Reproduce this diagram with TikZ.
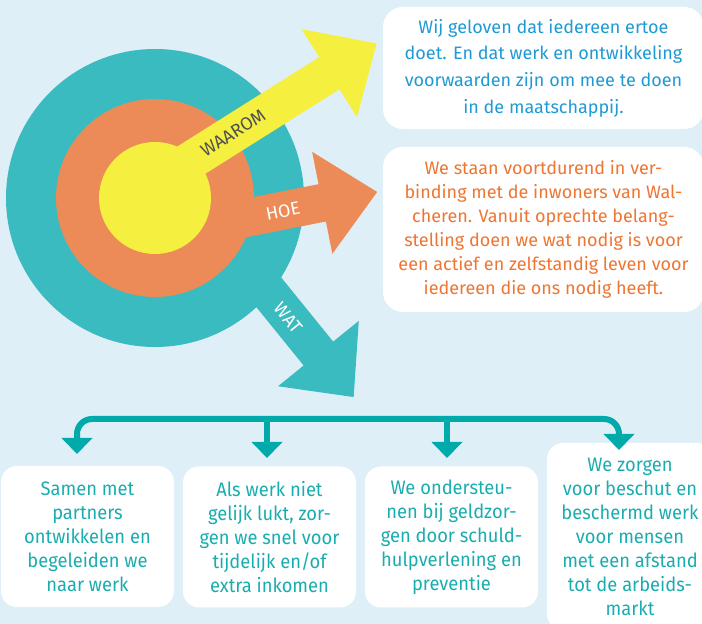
\documentclass[tikz,border=0pt]{standalone}
\usepackage{fontspec}
\setmainfont{Fira Sans}
\newfontfamily\narrowfont[FakeStretch=0.94]{Fira Sans}
\usetikzlibrary{arrows.meta}

\definecolor{bgblue}{HTML}{DFEFF7}
\definecolor{ringteal}{HTML}{3ABBBF}
\definecolor{ringorange}{HTML}{EC8B57}
\definecolor{ringyellow}{HTML}{F5F040}
\definecolor{lineteal}{HTML}{00A9AA}
\definecolor{txtteal}{HTML}{1AADB0}
\definecolor{txtblue}{HTML}{1E9AD5}
\definecolor{txtorange}{HTML}{EF7531}
\definecolor{txtgray}{HTML}{505050}

\tikzstyle{panel} = [fill=white, rounded corners=20pt, inner sep=0pt, align=center]
\tikzstyle{goal} = [panel, minimum width=173pt, minimum height=141pt, text=txtteal, font=\narrowfont\fontsize{19.5}{24}\selectfont, rounded corners=16pt]
\tikzstyle{tag} = [inner sep=0pt, font=\fontsize{18}{20}\selectfont]
\tikzstyle{branch} = [line width=6pt, lineteal, -{Triangle[width=30pt,length=16pt]}]

% fat arrow: colour, start, angle, length
\newcommand{\fatarrow}[4]{%
  \fill[#1, shift={#2}, rotate=#3] (0,-19) -- (#4-56,-19) -- (#4-56,-52) -- (#4,0)
    -- (#4-56,52) -- (#4-56,19) -- (0,19) -- cycle;}

\begin{document}
\begin{tikzpicture}[x=1pt, y=1pt]
    \clip (0,0) rectangle (702,624);
    \fill[bgblue] (0,0) rectangle (702,624);

    % target
    \fill[ringteal] (155,426) circle (149);
    \fatarrow{ringteal}{(207,408)}{-51}{233}
    \fatarrow{ringorange}{(180,393)}{11.2}{201}
    \fill[ringorange] (155,426) circle (99);
    \fatarrow{ringyellow}{(155,441)}{32.2}{262}
    \fill[ringyellow] (155,426) circle (56);

    \node (WAAROMl) [tag, text=txtgray, rotate=32.3] at (233,491) {WAAROM};
    \node (HOEl) [tag, text=white, rotate=11.2] at (283,413) {HOE};
    \node (WATl) [tag, text=white, rotate=-51] at (288,306) {WAT};

    % statements
    \node (WAAROMt) [panel, minimum width=321pt, minimum height=122pt, text=txtblue,
        font=\fontsize{18}{26.7}\selectfont] at (543.5,556)
        {Wij geloven dat iedereen ertoe\\doet. En dat werk en ontwikkeling\\voorwaarden zijn om mee te doen\\in de maatschappij.};
    \node (HOEt) [panel, minimum width=321pt, minimum height=165pt, text=txtorange,
        font=\fontsize{18}{24}\selectfont] at (543.5,394.5)
        {We staan voortdurend in ver-\\binding met de inwoners van Wal-\\cheren. Vanuit oprechte belang-\\stelling doen we wat nodig is voor\\een actief en zelfstandig leven voor\\iedereen die ons nodig heeft.};

    \node (WAT1) [goal] at (87.5,87.5) {Samen met\\partners\\ontwikkelen en\\begeleiden we\\naar werk};
    \node (WAT2) [goal] at (269.5,87) {Als werk niet\\gelijk lukt, zor-\\gen we snel voor\\tijdelijk en/of\\extra inkomen};
    \node (WAT3) [goal] at (451.5,87) {We ondersteu-\\nen bij geldzor-\\gen door schuld-\\hulpverlening en\\preventie};
    \node (WAT4) [goal, minimum width=166pt, minimum height=187pt] at (630,87.5) {We zorgen\\voor beschut en\\beschermd werk\\voor mensen\\met een afstand\\tot de arbeids-\\markt};

    % bracket
    \coordinate (barL) at (77,205);
    \coordinate (barR) at (619,205);
    \coordinate (bar2) at (267,205);
    \coordinate (bar3) at (447,205);
    \coordinate (tip1) at (77,170);
    \coordinate (tip2) at (267,166);
    \coordinate (tip3) at (447,166);
    \coordinate (tip4) at (619,174);
    \draw[branch, {Triangle[width=30pt,length=16pt]}-{Triangle[width=30pt,length=16pt]}, rounded corners=15pt]
        (tip1) -- (barL) -- (barR) -- (tip4);
    \draw[branch] (bar2) -- (tip2);
    \draw[branch] (bar3) -- (tip3);

\end{tikzpicture}
\end{document}
